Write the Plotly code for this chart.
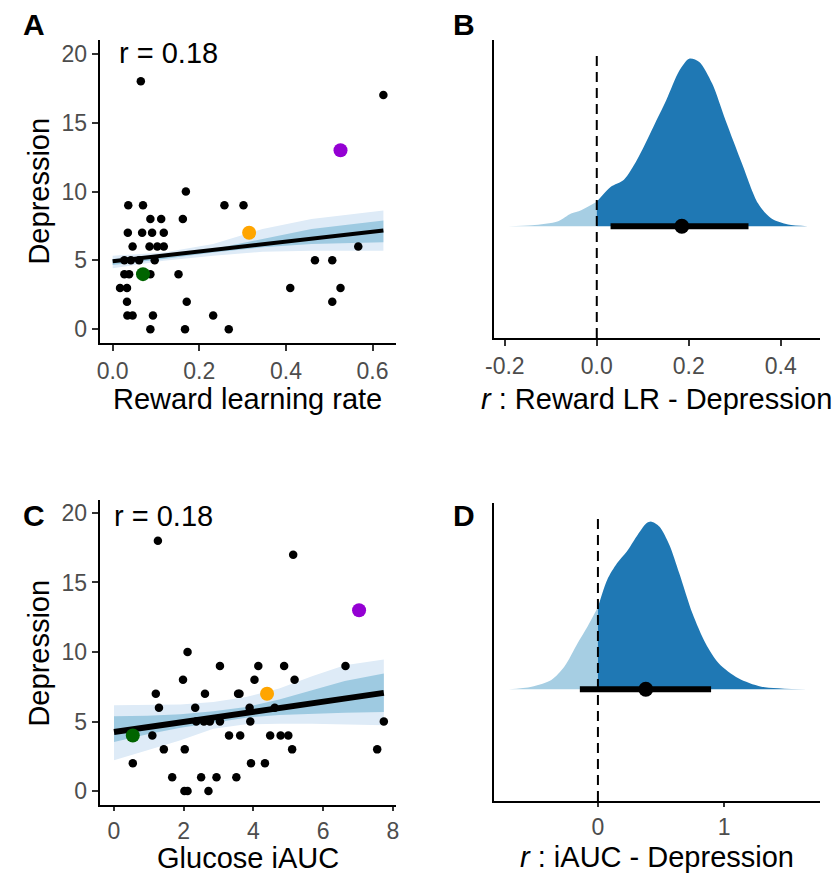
import plotly.graph_objects as go

# ---------------- data ----------------
# Panel A: reward learning rate vs depression
a_x = [0.065, 0.625, 0.169,
       0.036, 0.070, 0.258, 0.302,
       0.087, 0.112, 0.162,
       0.035, 0.068, 0.091, 0.118,
       0.046, 0.085, 0.103, 0.118, 0.567,
       0.027, 0.042, 0.061, 0.097, 0.467, 0.507,
       0.027, 0.038, 0.087, 0.152,
       0.017, 0.033, 0.410, 0.526,
       0.033, 0.171, 0.507,
       0.034, 0.046, 0.093, 0.232,
       0.087, 0.167, 0.268]
a_y = [18, 17, 10,
       9, 9, 9, 9,
       8, 8, 8,
       7, 7, 7, 7,
       6, 6, 6, 6, 6,
       5, 5, 5, 5, 5, 5,
       4, 4, 4, 4,
       3, 3, 3, 3,
       2, 2, 2,
       1, 1, 1, 1,
       0, 0, 0]
a_hl_x = [0.526, 0.315, 0.070]
a_hl_y = [13, 7, 4]
a_fit_x = [0.0, 0.625]
a_fit_y = [4.93, 7.16]
a_band_x = [0.0, 0.118, 0.232, 0.346, 0.459, 0.625]
a_l95_lo = [4.42, 4.98, 5.34, 5.63, 5.70, 5.70]
a_l95_hi = [5.34, 5.58, 6.19, 7.28, 8.00, 8.62]
a_l80_lo = [4.66, 5.10, 5.58, 5.95, 6.19, 6.31]
a_l80_hi = [5.10, 5.34, 5.83, 6.55, 7.28, 7.89]

# Panel C: glucose iAUC vs depression
c_x = [1.26, 5.14, 2.11,
       3.04, 4.14, 4.88, 6.64,
       1.98, 4.03, 5.18,
       1.20, 2.61, 3.56, 3.60,
       1.29, 2.33, 3.89, 4.61,
       2.36, 2.58, 2.75, 3.04, 3.91, 7.74,
       1.10, 3.30, 3.62, 4.48, 4.78, 5.00,
       1.43, 2.03, 5.11, 7.55,
       0.54, 3.93, 4.33,
       1.67, 2.50, 2.94, 3.51,
       2.02, 2.11, 2.71]
c_y = [18, 17, 10,
       9, 9, 9, 9,
       8, 8, 8,
       7, 7, 7, 7,
       6, 6, 6, 6,
       5, 5, 5, 5, 5, 5,
       4, 4, 4, 4, 4, 4,
       3, 3, 3, 3,
       2, 2, 2,
       1, 1, 1, 1,
       0, 0, 0]
c_hl_x = [7.03, 4.39, 0.54]
c_hl_y = [13, 7, 4]
c_fit_x = [0.0, 7.74]
c_fit_y = [4.25, 7.06]
c_band_x = [0.0, 0.96, 1.91, 2.85, 3.79, 4.74, 5.68, 6.62, 7.74]
c_l95_lo = [2.21, 2.93, 3.65, 4.49, 4.80, 4.85, 4.85, 4.80, 4.73]
c_l95_hi = [6.17, 6.17, 6.22, 6.41, 6.77, 7.37, 8.26, 9.05, 9.46]
c_l80_lo = [3.53, 4.08, 4.56, 4.94, 5.28, 5.47, 5.57, 5.64, 5.69]
c_l80_hi = [5.38, 5.42, 5.52, 5.74, 6.05, 6.58, 7.25, 7.92, 8.45]

# Panel B: posterior of r (Reward LR - Depression)
b_x = [-0.195, -0.141, -0.084, -0.056, -0.034, 0.0, 0.030, 0.059, 0.087, 0.123,
       0.151, 0.180, 0.201, 0.223, 0.251, 0.280, 0.316, 0.351, 0.380, 0.416, 0.459]
b_d = [0.0, 0.005, 0.027, 0.068, 0.086, 0.131, 0.211, 0.250, 0.354, 0.533,
       0.676, 0.837, 0.900, 0.882, 0.766, 0.569, 0.336, 0.122, 0.041, 0.009, 0.0]
b_point = 0.185
b_interval = [0.030, 0.330]

# Panel D: posterior of r (iAUC - Depression)
d_x = [-0.706, -0.525, -0.369, -0.265, -0.161, -0.083, 0.0, 0.073, 0.151, 0.229,
       0.306, 0.384, 0.423, 0.488, 0.566, 0.644, 0.748, 0.852, 0.956, 1.112, 1.294, 1.657]
d_d = [0.0, 0.014, 0.050, 0.122, 0.247, 0.336, 0.440, 0.587, 0.676, 0.739,
       0.820, 0.891, 0.900, 0.873, 0.775, 0.623, 0.408, 0.247, 0.140, 0.059, 0.014, 0.0]
d_point = 0.379
d_interval = [-0.143, 0.896]

# ---------------- styling ----------------
W, H = 839, 874
FONT = "Liberation Sans, Arial, sans-serif"
TICK_COLOR = "#4d4d4d"
BAND95 = "#deebf7"
BAND80 = "#9ecae1"
LIGHT = "#a6cee3"
DARK = "#1f78b4"
HL_COLORS = ["#9400d3", "#ffa500", "#006400"]


def px_x(p):
    return p / W


def px_y(p):
    return 1 - p / H


fig = go.Figure()


def scatter_panel(xa, ya, xs, ys, hx, hy, fx, fy, bx, lo95, hi95, lo80, hi80, lw):
    fig.add_trace(go.Scatter(x=bx + bx[::-1], y=hi95 + lo95[::-1], fill="toself",
                             fillcolor=BAND95, line=dict(width=0), mode="lines",
                             hoverinfo="skip", xaxis=xa, yaxis=ya, showlegend=False))
    fig.add_trace(go.Scatter(x=bx + bx[::-1], y=hi80 + lo80[::-1], fill="toself",
                             fillcolor=BAND80, line=dict(width=0), mode="lines",
                             hoverinfo="skip", xaxis=xa, yaxis=ya, showlegend=False))
    fig.add_trace(go.Scatter(x=fx, y=fy, mode="lines", line=dict(color="black", width=lw),
                             xaxis=xa, yaxis=ya, showlegend=False))
    fig.add_trace(go.Scatter(x=xs, y=ys, mode="markers",
                             marker=dict(color="black", size=8.5), xaxis=xa, yaxis=ya,
                             showlegend=False))
    fig.add_trace(go.Scatter(x=hx, y=hy, mode="markers",
                             marker=dict(color=HL_COLORS, size=14), xaxis=xa, yaxis=ya,
                             showlegend=False))


def density_panel(xa, ya, xs, ds, pt, iv):
    lx = [x for x in xs if x <= 0]
    ld = [d for x, d in zip(xs, ds) if x <= 0]
    rx = [x for x in xs if x >= 0]
    rd = [d for x, d in zip(xs, ds) if x >= 0]
    fig.add_trace(go.Scatter(x=lx, y=ld, mode="lines", fill="tozeroy", fillcolor=LIGHT,
                             line=dict(width=0, shape="spline", smoothing=0.8),
                             xaxis=xa, yaxis=ya, showlegend=False))
    fig.add_trace(go.Scatter(x=rx, y=rd, mode="lines", fill="tozeroy", fillcolor=DARK,
                             line=dict(width=0, shape="spline", smoothing=0.8),
                             xaxis=xa, yaxis=ya, showlegend=False))
    fig.add_trace(go.Scatter(x=iv, y=[0, 0], mode="lines", line=dict(color="black", width=6),
                             xaxis=xa, yaxis=ya, showlegend=False))
    fig.add_trace(go.Scatter(x=[pt], y=[0], mode="markers",
                             marker=dict(color="black", size=15), xaxis=xa, yaxis=ya,
                             showlegend=False))


scatter_panel("x", "y", a_x, a_y, a_hl_x, a_hl_y, a_fit_x, a_fit_y,
              a_band_x, a_l95_lo, a_l95_hi, a_l80_lo, a_l80_hi, 4)
density_panel("x2", "y2", b_x, b_d, b_point, b_interval)
scatter_panel("x3", "y3", c_x, c_y, c_hl_x, c_hl_y, c_fit_x, c_fit_y,
              c_band_x, c_l95_lo, c_l95_hi, c_l80_lo, c_l80_hi, 6)
density_panel("x4", "y4", d_x, d_d, d_point, d_interval)


def axis_style(tl=6):
    return dict(showline=True, linecolor="black", linewidth=2, showgrid=False,
                zeroline=False, ticks="outside", ticklen=tl, tickwidth=1.5,
                tickcolor="#333333",
                tickfont=dict(size=23, color=TICK_COLOR, family=FONT))


fig.update_layout(
    width=W, height=H, margin=dict(l=0, r=0, t=0, b=0),
    paper_bgcolor="white", plot_bgcolor="white",
    font=dict(family=FONT, color="black"),
    xaxis=dict(domain=[px_x(92), px_x(393)], range=[-0.03, 0.655],
               tickvals=[0, 0.2, 0.4, 0.6], ticktext=["0.0", "0.2", "0.4", "0.6"],
               anchor="y", **axis_style()),
    yaxis=dict(domain=[px_y(343), px_y(40)], range=[-1, 21],
               tickvals=[0, 5, 10, 15, 20], anchor="x", **axis_style()),
    xaxis2=dict(domain=[px_x(492), px_x(823)], range=[-0.2236, 0.486],
                tickvals=[-0.2, 0, 0.2, 0.4], ticktext=["-0.2", "0.0", "0.2", "0.4"],
                anchor="y2", **axis_style()),
    yaxis2=dict(domain=[px_y(338), px_y(40)], range=[-0.6, 1.0], showline=True,
                linecolor="black", linewidth=2, showgrid=False, zeroline=False,
                showticklabels=False, ticks="", anchor="x2"),
    xaxis3=dict(domain=[px_x(92), px_x(393)], range=[-0.41, 8.1],
                tickvals=[0, 2, 4, 6, 8], anchor="y3", **axis_style(4)),
    yaxis3=dict(domain=[px_y(805), px_y(500)], range=[-1, 20.93],
                tickvals=[0, 5, 10, 15, 20], anchor="x3", **axis_style()),
    xaxis4=dict(domain=[px_x(492), px_x(823)], range=[-0.823, 1.76],
                tickvals=[0, 1], anchor="y4", **axis_style(4)),
    yaxis4=dict(domain=[px_y(801), px_y(503)], range=[-0.6, 1.0], showline=True,
                linecolor="black", linewidth=2, showgrid=False, zeroline=False,
                showticklabels=False, ticks="", anchor="x4"),
)

# dashed zero lines
for xr, yr in [("x2", "y2 domain"), ("x4", "y4 domain")]:
    fig.add_shape(type="line", xref=xr, yref=yr, x0=0, x1=0, y0=0, y1=0.95,
                  line=dict(color="black", width=2, dash="10px,6px"))

ann = []


def add_text(text, x, y, size, xanchor="center", textangle=0, bold=False):
    ann.append(dict(text=("<b>%s</b>" % text) if bold else text, x=px_x(x), y=px_y(y),
                    xref="paper", yref="paper", showarrow=False, xanchor=xanchor,
                    yanchor="middle", textangle=textangle,
                    font=dict(size=size, family=FONT, color="black")))


add_text("A", 12, 24, 30, "left", bold=True)
add_text("B", 448, 24, 30, "left", bold=True)
add_text("C", 12, 515, 30, "left", bold=True)
add_text("D", 448, 515, 30, "left", bold=True)
add_text("r = 0.18", 110, 53, 29, "left")
add_text("r = 0.18", 104, 516, 29, "left")
add_text("Depression", 30, 191, 29, textangle=-90)
add_text("Depression", 30, 653, 29, textangle=-90)
add_text("Reward learning rate", 242, 399, 29)
add_text("<i>r</i> : Reward LR - Depression", 657, 399, 29)
add_text("Glucose iAUC", 242, 858, 29)
add_text("<i>r</i> : iAUC - Depression", 657, 857, 29)
fig.update_layout(annotations=ann)

fig.write_html("out.html")
